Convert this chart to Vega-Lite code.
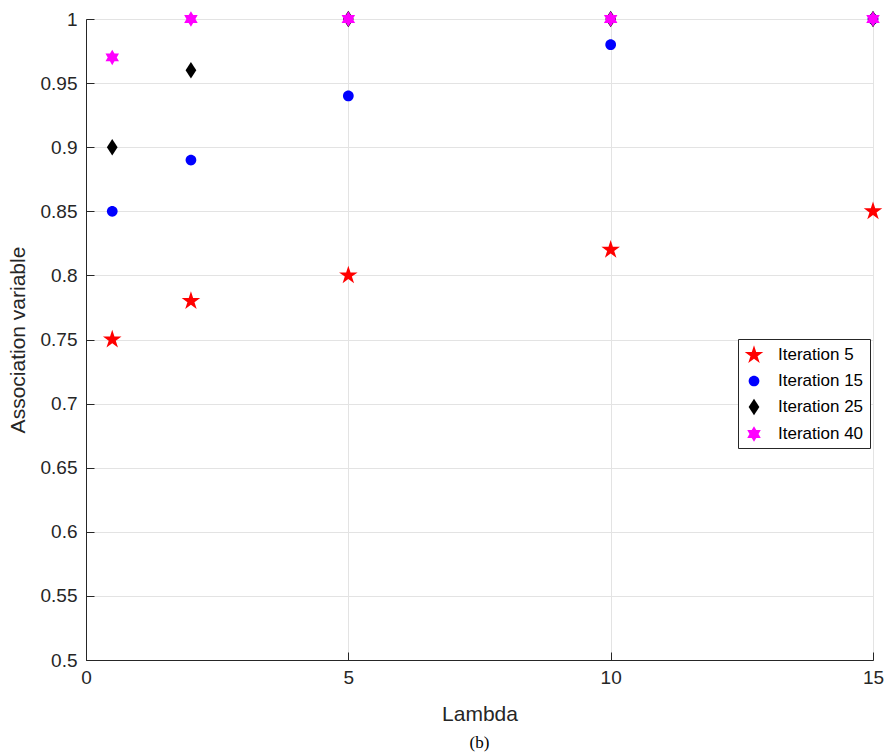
{
  "$schema": "https://vega.github.io/schema/vega-lite/v6.json",
  "width": 787,
  "height": 641,
  "autosize": "none",
  "padding": {"left": 86, "top": 19, "right": 16, "bottom": 92},
  "background": "white",
  "config": {
    "view": {"stroke": "#262626", "strokeWidth": 1},
    "font": "Liberation Sans"
  },
  "title": {"text": "(b)", "orient": "bottom", "font": "Liberation Serif", "fontSize": 17, "fontWeight": "normal", "color": "#000000", "offset": 11},
  "data": {
    "values": [
      {"lambda": 0.5, "value": 0.75, "series": "Iteration 5"},
      {"lambda": 2, "value": 0.78, "series": "Iteration 5"},
      {"lambda": 5, "value": 0.80, "series": "Iteration 5"},
      {"lambda": 10, "value": 0.82, "series": "Iteration 5"},
      {"lambda": 15, "value": 0.85, "series": "Iteration 5"},
      {"lambda": 0.5, "value": 0.85, "series": "Iteration 15"},
      {"lambda": 2, "value": 0.89, "series": "Iteration 15"},
      {"lambda": 5, "value": 0.94, "series": "Iteration 15"},
      {"lambda": 10, "value": 0.98, "series": "Iteration 15"},
      {"lambda": 15, "value": 1.0, "series": "Iteration 15"},
      {"lambda": 0.5, "value": 0.90, "series": "Iteration 25"},
      {"lambda": 2, "value": 0.96, "series": "Iteration 25"},
      {"lambda": 5, "value": 1.0, "series": "Iteration 25"},
      {"lambda": 10, "value": 1.0, "series": "Iteration 25"},
      {"lambda": 15, "value": 1.0, "series": "Iteration 25"},
      {"lambda": 0.5, "value": 0.97, "series": "Iteration 40"},
      {"lambda": 2, "value": 1.0, "series": "Iteration 40"},
      {"lambda": 5, "value": 1.0, "series": "Iteration 40"},
      {"lambda": 10, "value": 1.0, "series": "Iteration 40"},
      {"lambda": 15, "value": 1.0, "series": "Iteration 40"}
    ]
  },
  "mark": {"type": "point", "filled": true, "opacity": 1, "clip": false},
  "encoding": {
    "x": {
      "field": "lambda", "type": "quantitative",
      "scale": {"domain": [0, 15], "nice": false, "zero": false},
      "axis": {
        "values": [0, 5, 10, 15], "title": "Lambda", "titleFont": "Liberation Sans", "titleFontSize": 21, "titleFontWeight": "normal", "titleColor": "#262626",
        "titlePadding": 16,
        "labelFont": "Liberation Sans", "labelFontSize": 19, "labelColor": "#262626", "labelPadding": 16,
        "tickSize": -8, "tickColor": "#262626", "domainColor": "#262626",
        "grid": true, "gridColor": "#e3e3e3", "labelFlush": false
      }
    },
    "y": {
      "field": "value", "type": "quantitative",
      "scale": {"domain": [0.5, 1], "nice": false, "zero": false},
      "axis": {
        "values": [0.5, 0.55, 0.6, 0.65, 0.7, 0.75, 0.8, 0.85, 0.9, 0.95, 1],
        "labelExpr": "format(datum.value, '.2~f')",
        "title": "Association variable", "titleFont": "Liberation Sans", "titleFontSize": 21, "titleFontWeight": "normal", "titleColor": "#262626",
        "titlePadding": 12,
        "labelFont": "Liberation Sans", "labelFontSize": 19, "labelColor": "#262626", "labelPadding": 17,
        "tickSize": -8, "tickColor": "#262626", "domainColor": "#262626",
        "grid": true, "gridColor": "#e3e3e3", "labelFlush": false
      }
    },
    "color": {
      "field": "series", "type": "nominal",
      "scale": {"domain": ["Iteration 5", "Iteration 15", "Iteration 25", "Iteration 40"], "range": ["#ff0000", "#0000ff", "#000000", "#ff00ff"]},
      "legend": {
        "title": null, "orient": "none", "legendX": 652, "legendY": 320,
        "labelFont": "Liberation Sans", "labelFontSize": 17, "labelColor": "#000000",
        "strokeColor": "#262626", "fillColor": "white", "padding": 6,
        "rowPadding": 8, "symbolSize": 380, "labelOffset": 14, "symbolStrokeWidth": 0
      }
    },
    "shape": {
      "field": "series", "type": "nominal",
      "scale": {"domain": ["Iteration 5", "Iteration 15", "Iteration 25", "Iteration 40"],
        "range": [
          "M0,-1L0.2245,-0.309L0.951,-0.309L0.363,0.118L0.588,0.809L0,0.382L-0.588,0.809L-0.363,0.118L-0.951,-0.309L-0.2245,-0.309Z",
          "M0.55,0A0.55,0.55 0 1,1 -0.55,0A0.55,0.55 0 1,1 0.55,0Z",
          "M0,-0.85L0.55,0L0,0.85L-0.55,0Z",
          "M0,-0.8L0.231,-0.4L0.693,-0.4L0.462,0L0.693,0.4L0.231,0.4L0,0.8L-0.231,0.4L-0.693,0.4L-0.462,0L-0.693,-0.4L-0.231,-0.4Z"
        ]
      }
    },
    "size": {"value": 380}
  }
}
